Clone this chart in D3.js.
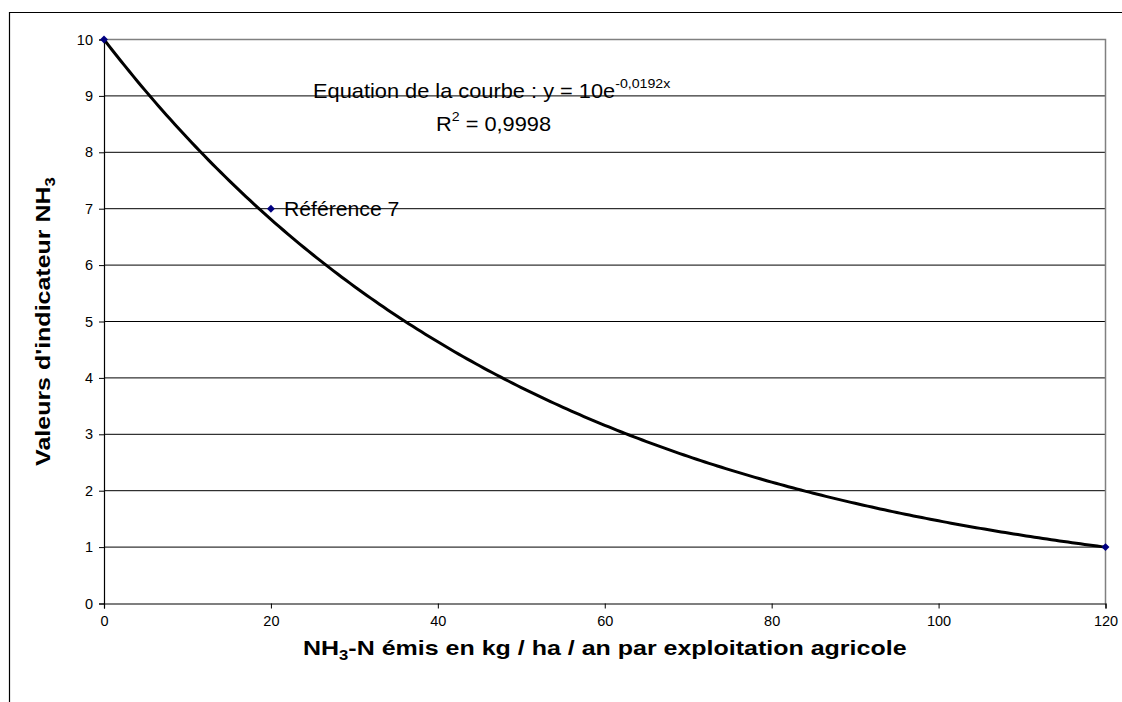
<!DOCTYPE html>
<html>
<head>
<meta charset="utf-8">
<script src="https://cdn.jsdelivr.net/npm/d3@7"></script>
<style>
  body { margin: 0; background: #fff; }
  text { font-family: Arial, "Liberation Sans", sans-serif; }
</style>
</head>
<body>
<div id="chart"></div>
<script>
// data points (emissions -> indicator value)
let emissions = [0, 20, 120];
let indicator = [10, 7, 1];
let xTicks = [0, 20, 40, 60, 80, 100, 120];
let yTicks = [0, 1, 2, 3, 4, 5, 6, 7, 8, 9, 10];
// trendline shown on the chart: y = 10e^(-0.0192x)
let trendA = 10;
let trendB = -0.0192;
let trendR2 = "0,9998";

let w = 1122;
let h = 702;
let margin = { left: 104, right: 16.5, top: 39.5, bottom: 98.5 };

let svg = d3
  .select("#chart")
  .append("svg")
  .attr("width", w)
  .attr("height", h);

// outer chart border (only left and top visible)
svg
  .append("path")
  .attr("d", "M9.5," + h + "V12.5H" + w)
  .attr("fill", "none")
  .attr("stroke", "#000")
  .attr("stroke-width", 1.2);

let x = d3
  .scaleLinear()
  .domain([0, 120])
  .range([margin.left, w - margin.right]);
let y = d3
  .scaleLinear()
  .domain([0, 10])
  .range([h - margin.bottom, margin.top]);

// horizontal gridlines
svg
  .append("g")
  .selectAll("line")
  .data(yTicks.filter(function (d) { return d > 0 && d < 10; }))
  .enter()
  .append("line")
  .attr("x1", x(0))
  .attr("x2", x(120))
  .attr("y1", function (d) { return y(d); })
  .attr("y2", function (d) { return y(d); })
  .attr("stroke", "#000")
  .attr("stroke-width", 1);

// plot area top/right border in gray
svg
  .append("path")
  .attr("d", "M" + x(0) + "," + y(10) + "H" + x(120) + "V" + y(0))
  .attr("fill", "none")
  .attr("stroke", "#808080")
  .attr("stroke-width", 1.5);

// axes
let xAxis = svg
  .append("g")
  .attr("transform", "translate(0," + y(0) + ")")
  .call(d3.axisBottom(x).tickValues(xTicks).tickSize(5).tickPadding(7));
let yAxis = svg
  .append("g")
  .attr("transform", "translate(" + x(0) + ",0)")
  .call(d3.axisLeft(y).tickValues(yTicks).tickSize(5).tickPadding(6));

[xAxis, yAxis].forEach(function (a) {
  a.select(".domain").attr("stroke", "#000").attr("stroke-width", 1.2);
  a.selectAll(".tick line").attr("stroke", "#000");
  a.selectAll("text")
    .attr("fill", "#000")
    .style("font-family", "Arial, 'Liberation Sans', sans-serif")
    .style("font-size", "14.5px");
});

// trendline
let curve = d3.range(0, 120.5, 0.5).map(function (v) {
  return [v, trendA * Math.exp(trendB * v)];
});
svg
  .append("path")
  .datum(curve)
  .attr("fill", "none")
  .attr("stroke", "#000")
  .attr("stroke-width", 3)
  .attr(
    "d",
    d3
      .line()
      .x(function (d) { return x(d[0]); })
      .y(function (d) { return y(d[1]); })
  );

// markers
let points = emissions.map(function (e, i) {
  return { x: e, y: indicator[i] };
});
svg
  .append("g")
  .selectAll("path")
  .data(points)
  .enter()
  .append("path")
  .attr("d", d3.symbol().type(d3.symbolDiamond2).size(40))
  .attr("transform", function (d) {
    return "translate(" + x(d.x) + "," + y(d.y) + ")";
  })
  .attr("fill", "#000080");

// label for reference point (text in the original is a bit wide, hence the scale)
svg
  .append("text")
  .attr("transform", "translate(" + (x(emissions[1]) + 13) + "," + (y(indicator[1]) + 7) + ") scale(1.06,1)")
  .style("font-size", "20px")
  .text("Référence " + indicator[1]);

// equation
let eq = svg
  .append("text")
  .attr("transform", "translate(313,98) scale(1.09,1)")
  .style("font-size", "20px");
eq.append("tspan").text("Equation de la courbe : y = " + trendA + "e");
eq.append("tspan")
  .attr("dy", -10)
  .style("font-size", "13px")
  .text(String(trendB).replace(".", ",") + "x");

let r2 = svg
  .append("text")
  .attr("transform", "translate(436,131) scale(1.09,1)")
  .style("font-size", "20px");
r2.append("tspan").text("R");
r2.append("tspan").attr("dy", -10).style("font-size", "13px").text("2");
r2.append("tspan").attr("dy", 10).text(" = " + trendR2);

// axis titles
let xt = svg
  .append("text")
  .attr("transform", "translate(" + (x(0) + x(120)) / 2 + ",655) scale(1.19,1)")
  .attr("text-anchor", "middle")
  .style("font-size", "21px")
  .style("font-weight", "bold");
xt.append("tspan").text("NH");
xt.append("tspan").attr("dy", 5).style("font-size", "14px").text("3");
xt.append("tspan").attr("dy", -5).text("-N émis en kg / ha / an par exploitation agricole");

let yt = svg
  .append("text")
  .attr("transform", "translate(50," + (y(0) + y(10)) / 2 + ") rotate(-90) scale(1.19,1)")
  .attr("text-anchor", "middle")
  .style("font-size", "21px")
  .style("font-weight", "bold");
yt.append("tspan").text("Valeurs d'indicateur NH");
yt.append("tspan").attr("dy", 5).style("font-size", "14px").text("3");
</script>
</body>
</html>
